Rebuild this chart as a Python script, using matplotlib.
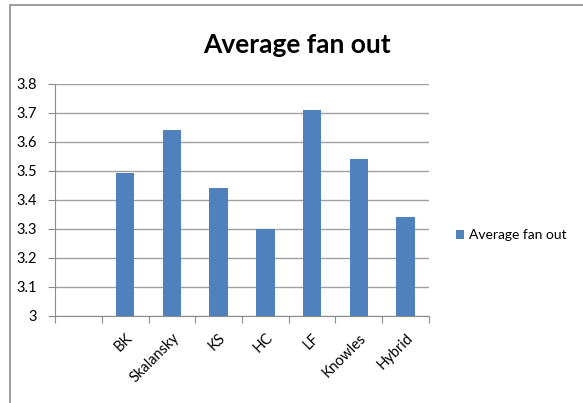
import matplotlib
matplotlib.use("Agg")
import matplotlib.pyplot as plt
from matplotlib.patches import Rectangle

categories = ["", "BK", "Skalansky", "KS", "HC", "LF", "Knowles", "Hybrid"]
values = [None, 3.49, 3.64, 3.44, 3.30, 3.71, 3.54, 3.34]
yticks = [3, 3.1, 3.2, 3.3, 3.4, 3.5, 3.6, 3.7, 3.8]
ytick_labels = ["3", "3.1", "3.2", "3.3", "3.4", "3.5", "3.6", "3.7", "3.8"]
series_name = "Average fan out"
title = "Average fan out"

plt.rcParams['font.family'] = ['Lato', 'DejaVu Sans']

W, H = 583, 403
fig = plt.figure(figsize=(W/100, H/100), dpi=100)
fig.patches.append(Rectangle((10/W, -0.1), 1.2, 1 - 5/H + 0.1, transform=fig.transFigure,
                             fill=False, edgecolor='#8c8c8c', linewidth=1.2))

ax = fig.add_axes([55/W, 1 - 315.5/H, (429-55)/W, (315.5-83.5)/H])
xs = [i for i, v in enumerate(values) if v is not None]
vs = [v - 3 for v in values if v is not None]
ax.bar(xs, vs, bottom=3, width=0.4, color='#4F81BD', label=series_name, zorder=3)
ax.set_xlim(-0.5, len(categories) - 0.5)
ax.set_ylim(3, 3.8)
ax.set_yticks(yticks)
ax.set_yticklabels(ytick_labels, fontsize=10.5)
ax.yaxis.grid(True, color='#a0a0a0', linewidth=1)
ax.set_axisbelow(True)
for s in ['top', 'right']:
    ax.spines[s].set_visible(False)
for s in ['left', 'bottom']:
    ax.spines[s].set_color('#8c8c8c')
ax.set_xticks([i - 0.5 for i in range(len(categories) + 1)])
ax.set_xticklabels([])
ax.set_xticks(range(len(categories)), minor=True)
ax.set_xticklabels(categories, minor=True, rotation=45, ha='right', va='top',
                   rotation_mode='anchor', fontsize=10.5)
ax.tick_params(axis='x', which='minor', length=0, pad=11)
ax.tick_params(axis='x', which='major', length=5, color='#8c8c8c')
ax.tick_params(axis='y', length=5, color='#8c8c8c', pad=8)

fig.text(297/W, 1 - 45/H, title, ha='center', va='center', fontsize=19, fontweight='bold')
ax.legend(loc='center left', bbox_to_anchor=(443/W, 1 - 235/H), bbox_transform=fig.transFigure,
          frameon=False, fontsize=10, handlelength=0.6, handleheight=0.6, handletextpad=0.35)

fig.savefig("out.png", dpi=100)
